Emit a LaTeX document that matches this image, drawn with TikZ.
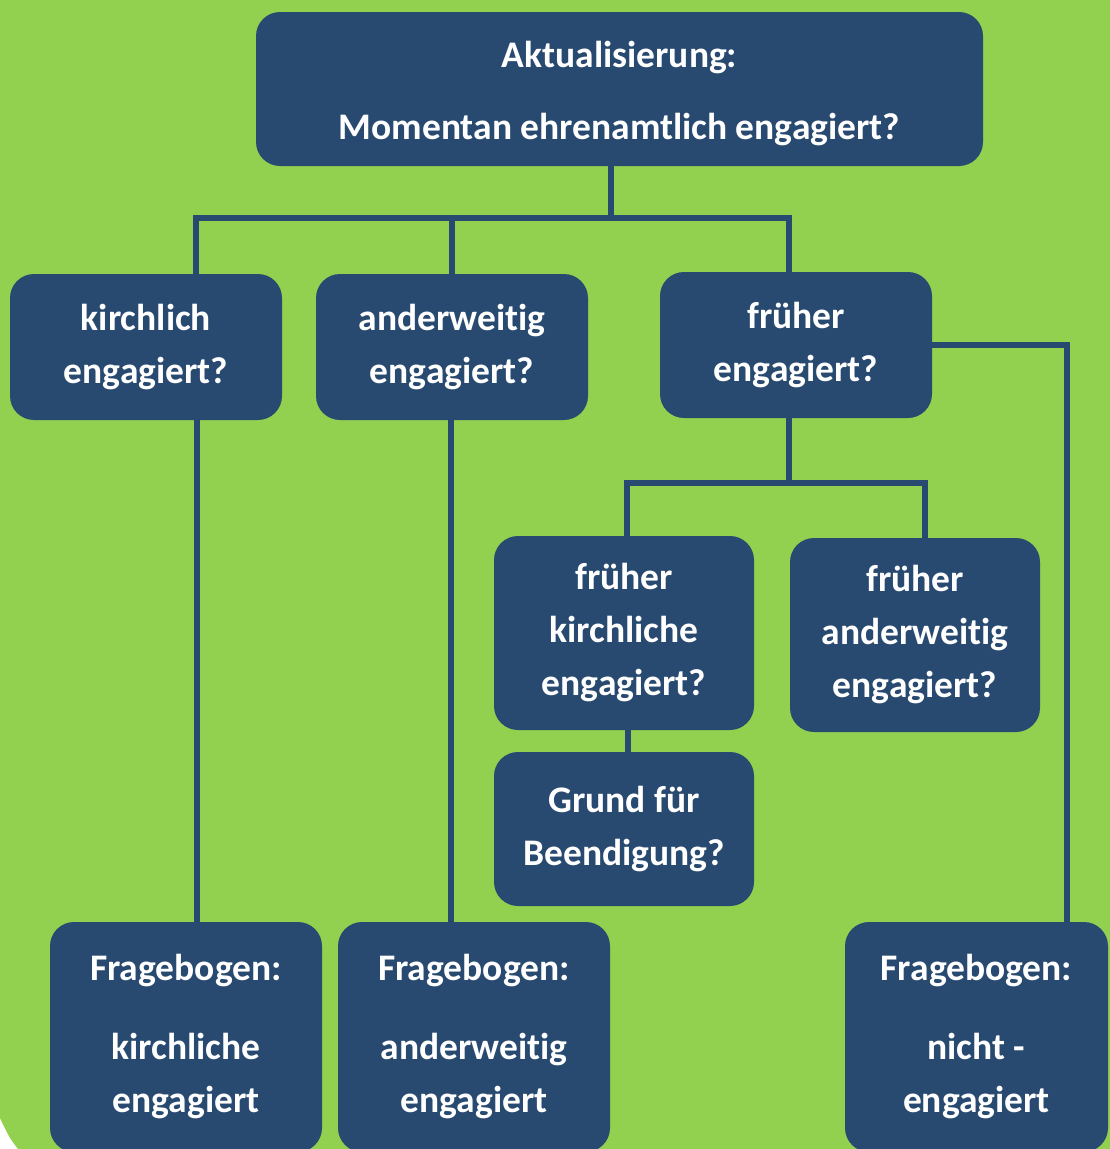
\documentclass[tikz,border=0pt]{standalone}
\usepackage{fontspec}
\setmainfont{Carlito}[Ligatures=NoCommon]
\definecolor{bg}{HTML}{92D050}
\definecolor{bx}{HTML}{294A70}
\begin{document}
\begin{tikzpicture}[x=1pt,y=-1pt,
  box/.style={draw=none,fill=bx,rounded corners=24pt,text=white,align=center,
    font=\fontsize{37.5}{53}\selectfont\bfseries,inner sep=0pt},
  conn/.style={draw=bx,line width=5.5pt}]
\useasboundingbox (0,0) rectangle (1110,1149);
\begin{scope}
\clip (0,0) rectangle (1110,1149);
\fill[white] (0,0) rectangle (1110,1149);
\fill[bg] (0,0) -- (1110,0) -- (1110,1149) -- (18,1149) .. controls (9,1137) .. (0,1118) -- cycle;
% boxes
\node[box,minimum width=727pt,minimum height=154pt] (top) at (619.5,89)
  {\rule{0pt}{36pt}Aktualisierung:\\[19pt]Momentan ehrenamtlich engagiert?};
\node[box,minimum width=272pt,minimum height=146pt] (b1) at (146,347) {kirchlich\\engagiert?};
\node[box,minimum width=272pt,minimum height=146pt] (b2) at (452,347) {anderweitig\\engagiert?};
\node[box,minimum width=272pt,minimum height=146pt] (b3) at (796,345) {früher\\engagiert?};
\node[box,minimum width=260pt,minimum height=194pt] (b4) at (624,633) {früher\\kirchliche\\engagiert?};
\node[box,minimum width=250pt,minimum height=194pt] (b5) at (915,635) {früher\\anderweitig\\engagiert?};
\node[box,minimum width=260pt,minimum height=154pt] (b6) at (624,829) {Grund für\\Beendigung?};
\node[box,minimum width=272pt,minimum height=230pt] (b7) at (186,1037) {Fragebogen:\\[26pt]kirchliche\\engagiert};
\node[box,minimum width=272pt,minimum height=230pt] (b8) at (474,1037) {Fragebogen:\\[26pt]anderweitig\\engagiert};
\node[box,minimum width=263pt,minimum height=230pt] (b9) at (976.5,1037) {Fragebogen:\\[26pt]nicht -\\engagiert};
% connectors
\coordinate (j1) at (611,218);
\coordinate (j2) at (789,483);
\draw[conn] ([xshift=-8.5pt]top.south) -- (j1);
\draw[conn] ([xshift=50pt]b1.north) |- (j1) -| ([xshift=-7pt]b3.north);
\draw[conn] (b2.north) -- (b2.north |- j1);
\draw[conn] ([xshift=-7pt]b3.south) -- (j2);
\draw[conn] ([xshift=3pt]b4.north) |- (j2) -| ([xshift=10pt]b5.north);
\draw[conn] ([xshift=4pt]b4.south) -- ([xshift=4pt]b6.north);
\draw[conn] ([xshift=51pt]b1.south) -- ([xshift=51pt]b1.south |- b7.north);
\draw[conn] ([xshift=-1pt]b2.south) -- ([xshift=-1pt]b2.south |- b8.north);
\draw[conn] (b3.east) -| ([xshift=90.5pt]b9.north);
\end{scope}
\end{tikzpicture}
\end{document}
